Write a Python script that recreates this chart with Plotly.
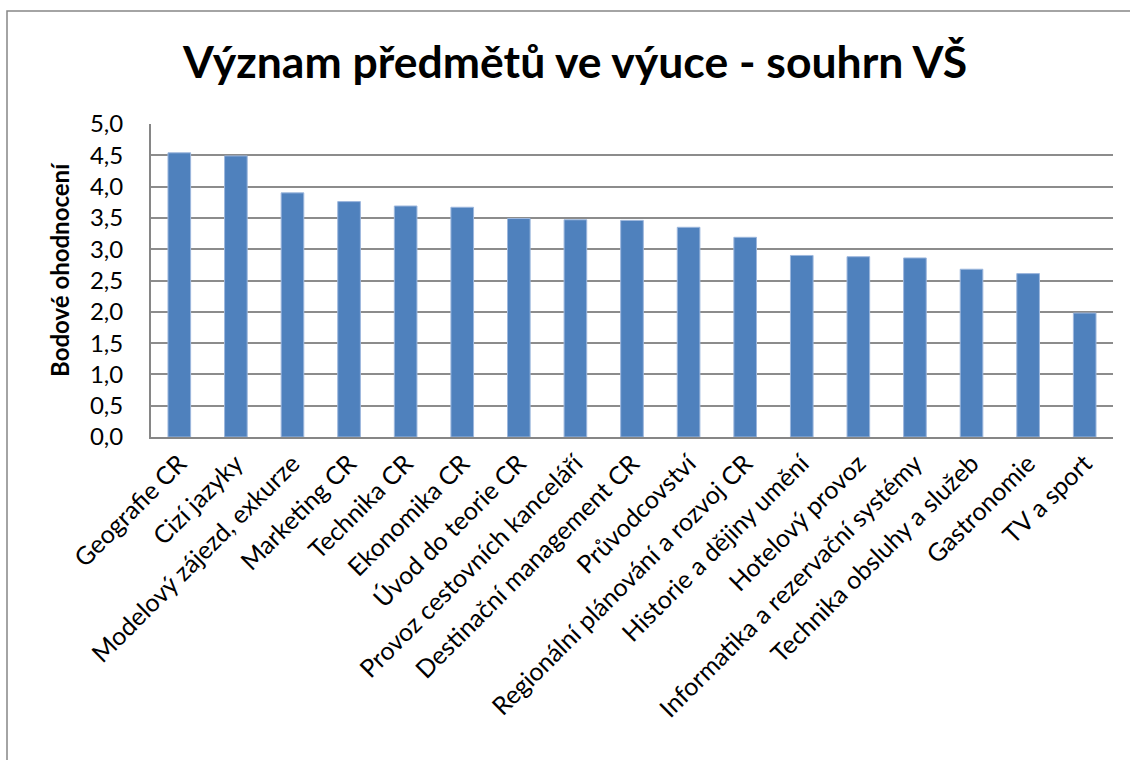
import plotly.graph_objects as go

# Subjects and their average score
predmety = [
    "Geografie CR", "Cizí jazyky", "Modelový zájezd, exkurze", "Marketing CR",
    "Technika CR", "Ekonomika CR", "Úvod do teorie CR", "Provoz cestovních kanceláří",
    "Destinační management CR", "Průvodcovství", "Regionální plánování a rozvoj CR",
    "Historie a dějiny umění", "Hotelový provoz", "Informatika a rezervační systémy",
    "Technika obsluhy a služeb", "Gastronomie", "TV a sport",
]
hodnoceni = [4.54, 4.49, 3.90, 3.76, 3.69, 3.67, 3.49, 3.47, 3.46, 3.35,
             3.19, 2.90, 2.88, 2.86, 2.68, 2.61, 1.98]
y_ticks = [0, 0.5, 1, 1.5, 2, 2.5, 3, 3.5, 4, 4.5, 5]

FONT = "Lato"
W, H = 1130, 760
L, R, T, B = 151, 17, 124, 323
plot_w = W - L - R
plot_h = H - T - B

fig = go.Figure(go.Bar(
    x=predmety,
    y=hodnoceni,
    marker=dict(color="#4F81BD", line=dict(color="#9DB7DD", width=1)),
))

fig.update_layout(
    width=W, height=H,
    margin=dict(l=L, r=R, t=T, b=B),
    paper_bgcolor="white",
    plot_bgcolor="white",
    separators=", ",
    bargap=0.6,
    showlegend=False,
    font=dict(family=FONT, color="black"),
    title=dict(
        text="<b>Význam předmětů ve výuce - souhrn VŠ</b>",
        x=575 / W, xanchor="center", xref="container",
        y=1 - 62 / H, yanchor="middle", yref="container",
        font=dict(family=FONT, size=44.5, color="black"),
    ),
    xaxis=dict(
        tickangle=-45,
        tickfont=dict(family=FONT, size=25),
        showline=True, linecolor="#868686", linewidth=2,
        showgrid=False,
    ),
    yaxis=dict(
        range=[0, 5],
        tickvals=y_ticks,
        tickformat=".1f",
        tickfont=dict(family=FONT, size=24),
        showline=True, linecolor="#868686", linewidth=2,
        showgrid=True, gridcolor="#8C8C8C", gridwidth=2,
        ticks="", ticklabelstandoff=21,
        zeroline=False,
    ),
    annotations=[dict(
        text="<b>Bodové ohodnocení</b>",
        xref="paper", yref="paper",
        x=(59 - L) / plot_w, y=(H - B - 270) / plot_h,
        xanchor="center", yanchor="middle",
        textangle=-90, showarrow=False,
        font=dict(family=FONT, size=24, color="black"),
    )],
    shapes=[dict(
        type="rect", xref="paper", yref="paper",
        x0=(7 - L) / plot_w, x1=(W + 20 - L) / plot_w,
        y0=(H - B - (H + 20)) / plot_h, y1=(H - B - 11) / plot_h,
        line=dict(color="#868686", width=1.5),
        fillcolor="rgba(0,0,0,0)", layer="below",
    )],
)

fig.write_html("out.html")
